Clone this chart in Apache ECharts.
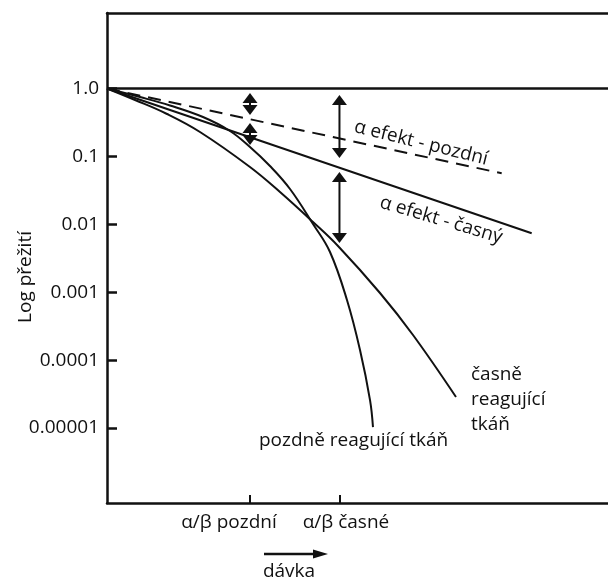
<!DOCTYPE html>
<html><head><meta charset="utf-8">
<script src="https://cdn.jsdelivr.net/npm/echarts@6/dist/echarts.min.js"></script>
<style>html,body{margin:0;padding:0;background:#fff}#c{width:608px;height:580px}</style>
</head><body><div id="c"></div>
<script>
// ---- data (dose in arbitrary units, survival fraction) ----
const xMax = 10;
const yMin = 7.86e-7;
const yMax = 12.94;

const refDose = [0, 10];
const refSurv = [1, 1];

const lateAlphaDose = [0, 7.878];
const lateAlphaSurv = [1, 0.0564];

const earlyAlphaDose = [0, 8.477];
const earlyAlphaSurv = [1, 0.00737];

const earlyDose = [0, 0.559, 1.198, 1.856, 2.854, 3.453, 4.112, 4.611, 5.449, 6.108, 6.966];
const earlySurv = [1, 0.677, 0.421, 0.2287, 0.0698, 0.0299, 0.01081, 0.00479, 0.000973, 0.000234, 0.0000286];

const lateDose = [0, 0.659, 1.257, 1.916, 2.455, 2.854, 3.253, 3.653, 4.112, 4.451, 4.790, 5.050, 5.250, 5.309];
const lateSurv = [1, 0.749, 0.562, 0.380, 0.2366, 0.1375, 0.0722, 0.0331, 0.0101, 0.00391, 0.000767, 0.000141, 0.0000258, 0.0000103];

const yTickValues = [1, 0.1, 0.01, 0.001, 0.0001, 0.00001];
const yTickLabels = ['1.0', '0.1', '0.01', '0.001', '0.0001', '0.00001'];

const xTickValues = [2.854, 4.64];
const xLabelValues = [2.435, 4.77];
const xTickLabels = ['α/β pozdní', 'α/β časné'];

const arrowDose = [2.854, 2.854, 4.64, 4.64];
const arrowTop = [0.8585, 0.3103, 0.802, 0.0589];
const arrowBottom = [0.4072, 0.1472, 0.0947, 0.0053];

// ---- chart ----
const INK = '#111';
const FONT = '"Open Sans", "Noto Sans", sans-serif';
const FS = 19;
const zip = (xs, ys) => xs.map((x, i) => [x, ys[i]]);

function yLabel(v) {
  for (let i = 0; i < yTickValues.length; i++) {
    if (Math.abs(Math.log10(v) - Math.log10(yTickValues[i])) < 0.01) return yTickLabels[i];
  }
  return '';
}
function xLabel(v) {
  for (let i = 0; i < xLabelValues.length; i++) {
    if (Math.abs(v - xLabelValues[i]) < 0.01) return xTickLabels[i];
  }
  return '';
}

const chart = echarts.init(document.getElementById('c'), null, {renderer: 'canvas'});
const lineBase = {type: 'line', symbol: 'none', silent: true, lineStyle: {color: INK, width: 2}, z: 3};

chart.setOption({
  animation: false,
  backgroundColor: '#fff',
  grid: {left: 107, right: 0, top: 13, bottom: 77, show: false},
  xAxis: [{
    type: 'value', min: 0, max: xMax, position: 'bottom',
    axisLine: {show: true, onZero: false, lineStyle: {color: INK, width: 2.5}},
    axisTick: {show: true, inside: true, length: 8, customValues: xTickValues, lineStyle: {color: INK, width: 2}},
    axisLabel: {show: true, customValues: xLabelValues, formatter: xLabel, color: INK, fontSize: FS, fontFamily: FONT, margin: 10},
    splitLine: {show: false}
  }, {
    type: 'value', min: 0, max: xMax, position: 'top',
    axisLine: {show: true, onZero: false, lineStyle: {color: INK, width: 2.5}},
    axisTick: {show: false}, axisLabel: {show: false}, splitLine: {show: false}
  }],
  yAxis: {
    type: 'log', logBase: 10, min: yMin, max: yMax,
    axisLine: {show: true, lineStyle: {color: INK, width: 2.5}},
    axisTick: {show: true, inside: true, length: 10, customValues: yTickValues, lineStyle: {color: INK, width: 2.5}},
    axisLabel: {show: true, customValues: yTickValues, formatter: yLabel, color: INK, fontSize: FS, fontFamily: FONT, margin: 8},
    splitLine: {show: false},
    minorTick: {show: false}
  },
  series: [
    Object.assign({}, lineBase, {data: zip(refDose, refSurv), lineStyle: {color: INK, width: 2.5}}),
    Object.assign({}, lineBase, {data: zip(lateAlphaDose, lateAlphaSurv), lineStyle: {color: INK, width: 2, type: [13, 8]}}),
    Object.assign({}, lineBase, {data: zip(earlyAlphaDose, earlyAlphaSurv)}),
    Object.assign({}, lineBase, {data: zip(earlyDose, earlySurv), smooth: 0.4}),
    Object.assign({}, lineBase, {data: zip(lateDose, lateSurv), smooth: 0.4}),
    {
      type: 'custom', silent: true, z: 5,
      data: arrowDose.map((d, i) => [d, arrowTop[i], arrowBottom[i]]),
      renderItem: function (params, api) {
        const top = api.coord([api.value(0), api.value(1)]);
        const bot = api.coord([api.value(0), api.value(2)]);
        const w = 15, h = 10;
        return {type: 'group', children: [
          {type: 'line', shape: {x1: top[0], y1: top[1] + h - 1, x2: bot[0], y2: bot[1] - h + 1}, style: {stroke: INK, lineWidth: 2}},
          {type: 'polygon', shape: {points: [[top[0], top[1]], [top[0] - w / 2, top[1] + h], [top[0] + w / 2, top[1] + h]]}, style: {fill: INK}},
          {type: 'polygon', shape: {points: [[bot[0], bot[1]], [bot[0] - w / 2, bot[1] - h], [bot[0] + w / 2, bot[1] - h]]}, style: {fill: INK}}
        ]};
      }
    }
  ],
  graphic: [
    {type: 'text', x: 26, y: 277, rotation: Math.PI / 2, style: {text: 'Log přežití', fill: INK, font: FS + 'px ' + FONT, align: 'center', verticalAlign: 'middle'}},
    {type: 'text', x: 421, y: 143, rotation: -14 * Math.PI / 180, style: {text: 'α efekt - pozdní', fill: INK, font: FS + 'px ' + FONT, align: 'center', verticalAlign: 'middle'}},
    {type: 'text', x: 441, y: 220, rotation: -16.5 * Math.PI / 180, style: {text: 'α efekt - časný', fill: INK, font: FS + 'px ' + FONT, align: 'center', verticalAlign: 'middle'}},
    {type: 'text', x: 471, y: 400, style: {text: 'časně\nreagující\ntkáň', fill: INK, font: FS + 'px ' + FONT, lineHeight: 25, align: 'left', verticalAlign: 'middle'}},
    {type: 'text', x: 259, y: 441, style: {text: 'pozdně reagující tkáň', fill: INK, font: FS + 'px ' + FONT, align: 'left', verticalAlign: 'middle'}},
    {type: 'line', shape: {x1: 264, y1: 554, x2: 318, y2: 554}, style: {stroke: INK, lineWidth: 2.5}},
    {type: 'polygon', shape: {points: [[328, 554], [313, 549.5], [313, 558.5]]}, style: {fill: INK}},
    {type: 'text', x: 289, y: 572, style: {text: 'dávka', fill: INK, font: FS + 'px ' + FONT, align: 'center', verticalAlign: 'middle'}}
  ]
});
</script>
</body></html>
